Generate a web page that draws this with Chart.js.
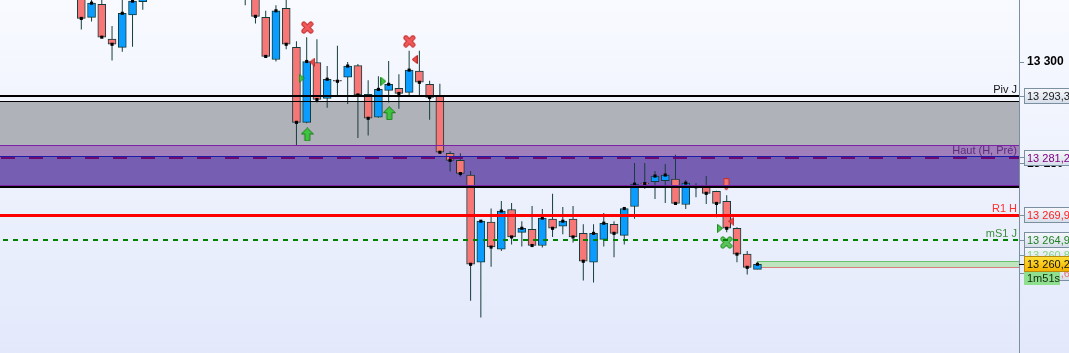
<!DOCTYPE html>
<html>
<head>
<meta charset="utf-8">
<script src="https://cdn.jsdelivr.net/npm/chart.js@4.4.1/dist/chart.umd.min.js"></script>
<style>
  html, body { margin: 0; padding: 0; background: #f4f7fe; }
  #wrap { width: 1069px; height: 353px; position: relative; }
</style>
</head>
<body>
<div id="wrap"><canvas id="chart"></canvas></div>
<script>
// bar slots (index 0 = first candle that reaches into the view)
const slots  = [0, 1, 2, 3, 4, 5, 6, 16, 17, 18, 19, 20, 21, 22, 23, 24, 25, 26, 27, 28, 29, 30,
                31, 32, 33, 34, 35, 36, 37, 38, 39, 40, 41, 42, 43, 44, 45, 46, 47, 48, 49, 50,
                51, 52, 53, 54, 55, 56, 57, 58, 59, 60, 61, 62, 63, 64, 65, 66];
const opens  = [13315.2, 13308.8, 13311.4, 13304.5, 13302.9, 13309.3, 13311.9, 13318.0, 13315.0, 13308.8,
                13300.5, 13310.6, 13302.9, 13288.1, 13299.9, 13292.8, 13296.4, 13297.0, 13299.3, 13293.6,
                13289.1, 13294.4, 13294.8, 13294.0, 13298.2, 13295.6, 13293.3, 13282.0, 13280.6, 13277.7,
                13260.5, 13268.4, 13263.1, 13270.9, 13266.4, 13267.0, 13263.8, 13269.0, 13267.6, 13269.0,
                13266.2, 13260.5, 13265.0, 13268.0, 13265.8, 13271.5, 13276.1, 13276.4, 13276.6, 13276.9,
                13271.9, 13275.5, 13275.3, 13274.5, 13272.5, 13267.2, 13262.1, 13259.1];
const highs  = [13317.2, 13313.5, 13313.0, 13307.1, 13313.5, 13313.0, 13316.0, 13320.0, 13317.0, 13310.1,
                13311.2, 13312.6, 13304.1, 13304.9, 13304.5, 13299.2, 13303.2, 13300.0, 13299.6, 13296.4,
                13297.2, 13300.2, 13297.6, 13302.2, 13302.2, 13296.3, 13295.7, 13282.4, 13282.0, 13278.5,
                13268.8, 13271.1, 13272.6, 13272.2, 13268.6, 13271.6, 13271.0, 13274.0, 13271.4, 13271.6,
                13268.0, 13268.0, 13270.2, 13268.6, 13271.2, 13280.1, 13280.1, 13278.5, 13279.9, 13281.7,
                13276.7, 13276.1, 13277.5, 13274.6, 13273.7, 13267.4, 13262.7, 13260.5];
const lows   = [13306.4, 13308.0, 13304.8, 13300.3, 13302.0, 13303.0, 13310.3, 13311.2, 13307.6, 13301.0,
                13300.1, 13302.5, 13283.6, 13287.9, 13292.0, 13291.0, 13293.5, 13291.7, 13285.0, 13285.5,
                13289.0, 13292.0, 13290.8, 13293.5, 13293.5, 13288.6, 13282.1, 13278.4, 13277.4, 13252.9,
                13249.6, 13259.6, 13262.7, 13264.0, 13263.6, 13263.7, 13263.4, 13265.5, 13266.0, 13264.4,
                13256.9, 13256.5, 13263.6, 13261.5, 13264.0, 13269.1, 13275.0, 13273.0, 13272.2, 13272.0,
                13271.0, 13273.3, 13272.0, 13269.4, 13266.4, 13260.5, 13258.1, 13259.1];
const closes = [13308.6, 13311.6, 13304.9, 13303.5, 13309.6, 13312.0, 13314.5, 13314.0, 13309.0, 13301.1,
                13310.1, 13303.5, 13288.1, 13300.1, 13292.6, 13296.6, 13296.2, 13299.2, 13293.5, 13288.9,
                13294.6, 13295.6, 13293.8, 13298.4, 13296.0, 13293.0, 13282.2, 13280.6, 13278.0, 13260.1,
                13268.6, 13263.5, 13270.6, 13265.5, 13267.2, 13263.8, 13269.2, 13267.2, 13268.6, 13265.5,
                13260.7, 13266.2, 13268.2, 13266.2, 13271.1, 13275.9, 13276.0, 13277.5, 13277.7, 13272.1,
                13276.1, 13275.4, 13274.1, 13272.1, 13267.2, 13262.1, 13259.5, 13260.1];

// signal markers (slot, price)
const crossX    = [22.06, 32.02],        crossY    = [13306.8, 13304.1];
const upArrowX  = [22.06, 30.06],        upArrowY  = [13285.7, 13289.9];
const leftTriX  = [22.55, 32.54, 63.45], leftTriY  = [13300.0, 13300.5, 13268.6];
const rightTriX = [21.51, 29.48, 62.34], rightTriY = [13296.8, 13296.2, 13267.2];
const downArrX  = [62.96],               downArrY  = [13275.8];
const cloverX   = [62.96],               cloverY   = [13264.4];

// levels
const levelNames  = ['Piv J', 'Haut (H, Pré)', 'R1 H', 'mS1 J'];
const levelValues = [13293.3, 13281.2, 13269.9, 13264.9];
const grayZone    = [13292.3, 13283.6];
const purpleZone  = [13283.6, 13281.2];
const violetZone  = [13281.2, 13275.4];
const spread      = [13260.8, 13259.6];
const lastPrice   = 13260.2;
const countdown   = '1m51s';

// axis
const yMin = 13242.6, yMax = 13312.23, yStep = 20;
const xMin = -7.936, xMax = 91.53;

const fmt = (v, d) => {
  const s = v.toFixed(d).split('.');
  return s[0].replace(/\B(?=(\d{3})+(?!\d))/g, ' ') + (s[1] ? ',' + s[1] : '');
};

function marker(w, h, draw) {
  const c = document.createElement('canvas');
  c.width = w; c.height = h;
  draw(c.getContext('2d'));
  return c;
}
function xShape(fill, edge) {
  return marker(13, 13, g => {
    g.lineCap = 'round';
    g.beginPath(); g.moveTo(3, 3); g.lineTo(10, 10); g.moveTo(10, 3); g.lineTo(3, 10);
    g.strokeStyle = edge; g.lineWidth = 5; g.stroke();
    g.strokeStyle = fill; g.lineWidth = 3; g.stroke();
  });
}
function poly(w, h, pts, fill, edge) {
  return marker(w, h, g => {
    g.beginPath();
    pts.forEach((p, i) => i ? g.lineTo(p[0], p[1]) : g.moveTo(p[0], p[1]));
    g.closePath();
    g.fillStyle = fill; g.fill();
    g.strokeStyle = edge; g.lineWidth = 1; g.stroke();
  });
}
const imgCross  = xShape('#f05a5a', '#c42c2c');
const imgClover = xShape('#5cc45c', '#2e9a2e');
const imgUp     = poly(13, 14, [[6.5,0.5],[12.5,6.5],[9,6.5],[9,13.5],[4,13.5],[4,6.5],[0.5,6.5]], '#3ec43e', '#1d7a1d');
const imgLeft   = poly(6, 9, [[0.5,4.5],[5.5,0.5],[5.5,8.5]], '#f04848', '#b02424');
const imgRight  = poly(6, 9, [[0.5,0.5],[5.5,4.5],[0.5,8.5]], '#44c444', '#1f8a1f');
const imgDown   = poly(7, 13, [[1,0.5],[6,0.5],[6,8.5],[3.5,12],[1,8.5]], '#f47474', '#c03030');

const pts = (xs, ys) => xs.map((v, i) => ({x: v, y: ys[i]}));
const markerSet = (xs, ys, img) => ({
  type: 'line', showLine: false, order: 1,
  data: pts(xs, ys), pointStyle: img, pointRadius: 6, pointHoverRadius: 6
});

const levelPlugin = {
  id: 'levels',
  beforeDraw(chart) {
    const {ctx, width, height} = chart;
    const g = ctx.createLinearGradient(0, 0, 0, height);
    g.addColorStop(0, '#f8faff');
    g.addColorStop(1, '#e3e9fb');
    ctx.save();
    ctx.fillStyle = g;
    ctx.fillRect(0, 0, width, height);
    ctx.restore();
  },
  beforeDatasetsDraw(chart) {
    const {ctx, chartArea: a, scales: {x, y}} = chart;
    const band = (p1, p2, color, x0 = a.left) => {
      const t = Math.round(y.getPixelForValue(p1)), b = Math.round(y.getPixelForValue(p2));
      ctx.fillStyle = color;
      ctx.fillRect(x0, t, a.right - x0, b - t);
    };
    ctx.save();
    band(grayZone[0], grayZone[1], '#b0b2b9');
    band(purpleZone[0], purpleZone[1], '#a07fbb');
    band(violetZone[0], violetZone[1], '#765eb3');
    const xs = Math.round(x.getPixelForValue(slots[slots.length - 1]));
    band(spread[0], spread[1], '#bfe5bf', xs);
    ctx.fillStyle = '#6cbf6c';
    ctx.fillRect(xs, Math.round(y.getPixelForValue(spread[0])), a.right - xs, 1);
    ctx.fillStyle = '#d88080';
    ctx.fillRect(xs, Math.round(y.getPixelForValue(spread[1])), a.right - xs, 1);
    ctx.restore();
  },
  afterDatasetsDraw(chart) {
    const {ctx, chartArea: a, scales: {y}} = chart;
    const hline = (yy, w, color, dash) => {
      const top = Math.round(yy) - (w > 1 ? 1 : 0);
      ctx.fillStyle = color;
      if (!dash) { ctx.fillRect(a.left, top, a.right - a.left, w); return; }
      for (let xx = a.left + dash[2]; xx < a.right; xx += dash[0] + dash[1]) {
        ctx.fillRect(xx, top, Math.min(dash[0], a.right - xx), w);
      }
    };
    const py = v => y.getPixelForValue(v);
    ctx.save();
    hline(py(levelValues[0]), 2, '#000000');
    hline(py(grayZone[0]), 1, '#000000');
    hline(py(grayZone[1]), 1, '#7d22a6');
    hline(py(levelValues[1]) - 1, 1, '#1c1ca6');
    hline(py(levelValues[1]) + 1, 2, '#6e0a70', [14, 14, 1]);
    hline(py(violetZone[1]) - 1.5, 1, '#7d22a6');
    hline(py(violetZone[1]), 2, '#000000');
    hline(py(levelValues[2]), 3, '#ff0000');
    hline(py(levelValues[3]), 2, '#008000', [5, 5, 3]);

    const nameColors = ['#141414', '#5e2a7e', '#ff3030', '#3c8c3c'];
    ctx.font = '11px "Liberation Sans", Arial, sans-serif';
    ctx.textAlign = 'right';
    ctx.textBaseline = 'alphabetic';
    levelNames.forEach((n, i) => {
      ctx.fillStyle = nameColors[i];
      ctx.fillText(n, a.right - 2, Math.round(py(levelValues[i])) - 3);
    });
    ctx.restore();
  },
  afterDraw(chart) {
    const {ctx, chartArea: a, scales: {y}} = chart;
    const left = a.right + 5, w = 50, h = 15;
    const tag = (yc, text, color, fill, edge, tickColor) => {
      const t = Math.round(yc - h / 2) + 0.5;
      ctx.fillStyle = tickColor || '#7a8fa0';
      ctx.fillRect(a.right, Math.round(yc), 5, 1);
      let bg = fill;
      if (!bg) {
        bg = ctx.createLinearGradient(0, t, 0, t + h);
        bg.addColorStop(0, '#f6f8fc');
        bg.addColorStop(1, '#d6deea');
      }
      ctx.fillStyle = bg;
      ctx.fillRect(left + 0.5, t, w, h);
      ctx.strokeStyle = edge || '#7a8fa0';
      ctx.lineWidth = 1;
      ctx.strokeRect(left + 0.5, t, w, h);
      ctx.fillStyle = color;
      ctx.fillText(text, left + 3, t + h / 2 + 0.5);
    };
    ctx.save();
    ctx.font = '11px "Liberation Sans", Arial, sans-serif';
    ctx.textAlign = 'left';
    ctx.textBaseline = 'middle';
    const py = v => y.getPixelForValue(v);
    tag(py(spread[1]) + 6, fmt(spread[1], 1), '#e07070');
    tag(py(spread[0]) - 6, fmt(spread[0], 1), '#86d486');
    const tagColors = ['#1a1a1a', '#800080', '#ff2020', '#208020'];
    for (let i = levelValues.length - 1; i >= 0; i--) {
      tag(py(levelValues[i]), fmt(levelValues[i], 1), tagColors[i]);
    }
    const t = Math.round(py(lastPrice) - h / 2);
    const gy = ctx.createLinearGradient(0, t, 0, t + h);
    gy.addColorStop(0, '#ffe23c');
    gy.addColorStop(1, '#f4b400');
    tag(py(lastPrice), fmt(lastPrice, 1), '#111111', gy, '#b88a10', '#000000');
    // countdown box
    const cy = t + h + 1;
    ctx.fillStyle = '#8ee08e';
    ctx.fillRect(left, cy, 36, 13);
    ctx.fillStyle = '#102810';
    ctx.fillText(countdown, left + 3, cy + 7);
    ctx.restore();
  }
};

new Chart(document.getElementById('chart'), {
  type: 'bar',
  data: {
    datasets: [
      markerSet(crossX, crossY, imgCross),
      markerSet(cloverX, cloverY, imgClover),
      markerSet(upArrowX, upArrowY, imgUp),
      markerSet(leftTriX, leftTriY, imgLeft),
      markerSet(rightTriX, rightTriY, imgRight),
      markerSet(downArrX, downArrY, imgDown),
      {
        type: 'line', showLine: false, order: 2,
        data: pts(slots, closes),
        pointStyle: 'rect', pointRadius: 2.2, pointBorderWidth: 0,
        pointBackgroundColor: '#000000'
      },
      {
        label: 'bodies', order: 3, grouped: false,
        data: slots.map((s, i) => ({x: s, y: [Math.min(opens[i], closes[i]), Math.max(opens[i], closes[i])]})),
        backgroundColor: slots.map((s, i) => closes[i] >= opens[i] ? '#0a9cff' : '#f77676'),
        borderColor: '#123c3c', borderWidth: 1, borderSkipped: false,
        barThickness: 8
      },
      {
        label: 'wicks', order: 4, grouped: false,
        data: slots.map((s, i) => ({x: s, y: [lows[i], highs[i]]})),
        backgroundColor: '#163e3e', borderWidth: 0, inflateAmount: 0,
        barThickness: 1
      }
    ]
  },
  options: {
    responsive: true,
    maintainAspectRatio: false,
    animation: false,
    events: [],
    layout: { padding: 0, autoPadding: false },
    plugins: { legend: { display: false }, tooltip: { enabled: false } },
    scales: {
      x: { type: 'linear', min: xMin, max: xMax, display: false, offset: false },
      y: {
        position: 'right', min: yMin, max: yMax,
        afterFit(scale) { scale.width = 50; scale.paddingTop = 0; scale.paddingBottom = 0; },
        grid: { drawOnChartArea: false, tickLength: 5, color: '#7a8fa0' },
        border: { color: '#7a8fa0', width: 1 },
        ticks: {
          stepSize: yStep, includeBounds: false, padding: 3, color: '#000000',
          font: { family: '"Liberation Sans", Arial, sans-serif', size: 12, weight: 'bold' },
          callback: v => fmt(v, 0)
        }
      }
    }
  },
  plugins: [levelPlugin]
});
</script>
</body>
</html>
